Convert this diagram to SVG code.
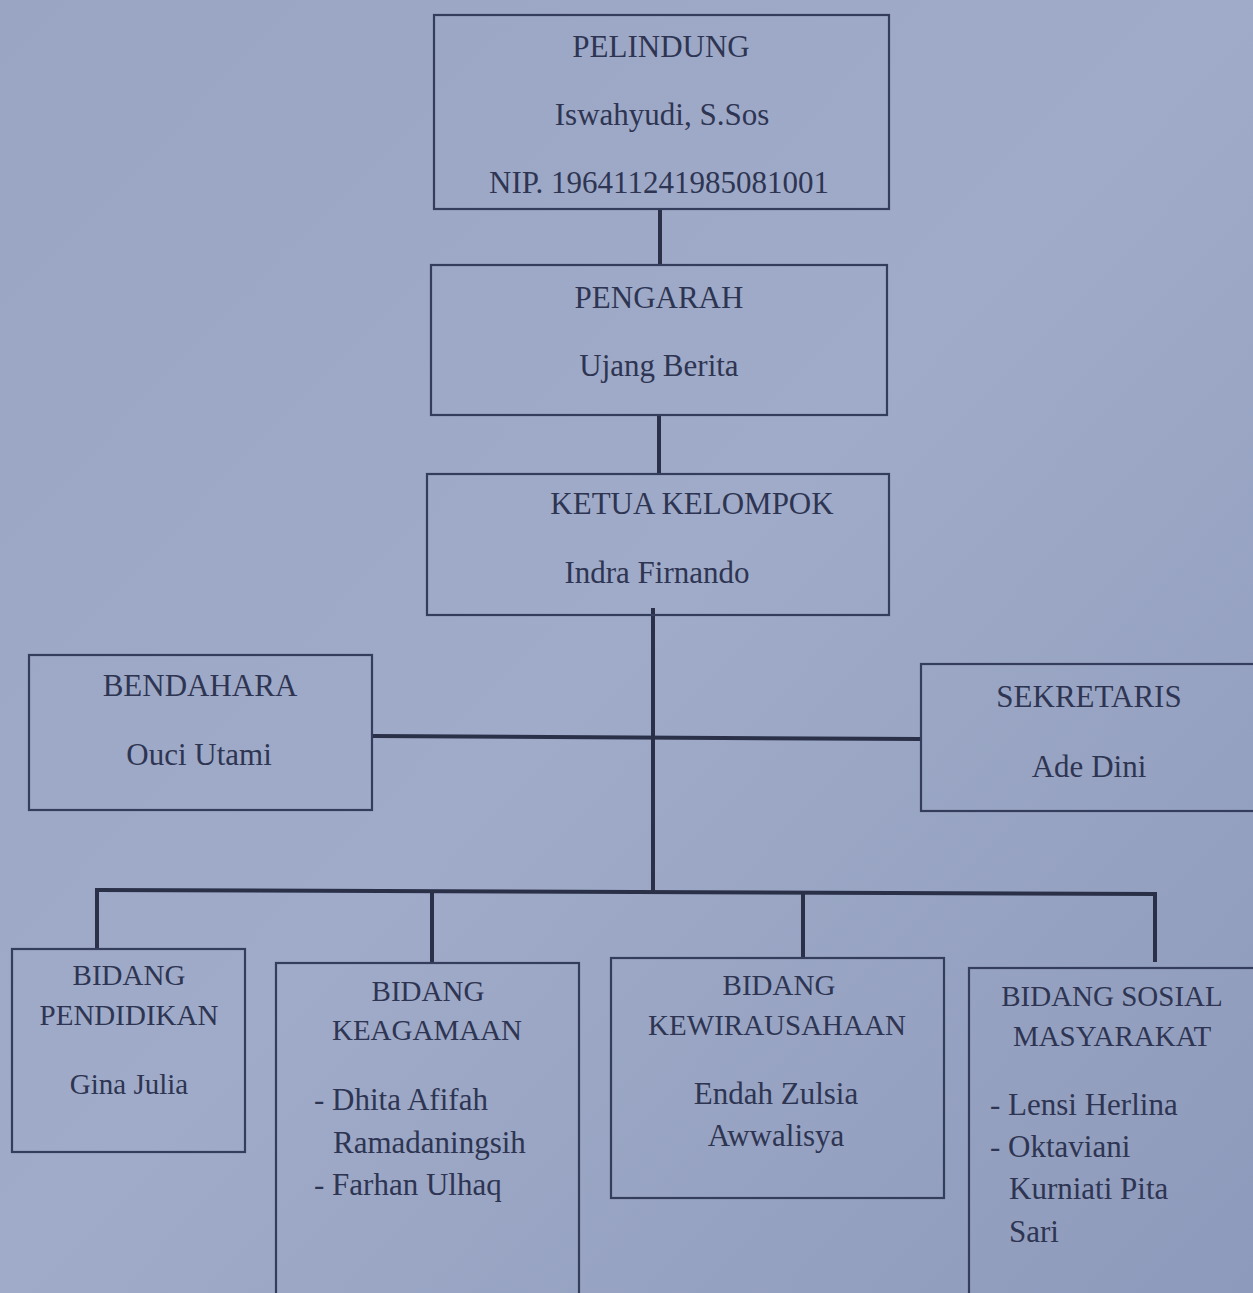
<svg xmlns="http://www.w3.org/2000/svg" width="1253" height="1293" viewBox="0 0 1253 1293">
<defs>
<linearGradient id="bg" x1="0" y1="0" x2="1" y2="1">
<stop offset="0" stop-color="#9aa5c4"/>
<stop offset="0.5" stop-color="#a0abc9"/>
<stop offset="1" stop-color="#8e9abb"/>
</linearGradient>
<style>
.box{fill:none;stroke:#353d5c;stroke-width:2.2}
.t{font-family:"Liberation Serif","Times New Roman",serif;font-size:31px;fill:#2e3552}
.s{font-size:29px}
.c{text-anchor:middle}
.ln{stroke:#2a3048;stroke-width:4;fill:none}
</style>
</defs>
<rect x="0" y="0" width="1253" height="1293" fill="url(#bg)"/>
<g id="connectors">
<line class="ln" x1="660" y1="210" x2="660" y2="265"/>
<line class="ln" x1="659" y1="415" x2="659" y2="474"/>
<line class="ln" x1="653" y1="608" x2="653" y2="892"/>
<line class="ln" x1="373" y1="736" x2="921" y2="739"/>
<line class="ln" x1="97" y1="890" x2="1156" y2="894"/>
<line class="ln" x1="97" y1="888" x2="97" y2="949"/>
<line class="ln" x1="432" y1="890" x2="432" y2="963"/>
<line class="ln" x1="803" y1="891" x2="803" y2="957"/>
<line class="ln" x1="1155" y1="892" x2="1155" y2="962"/>
</g>
<g id="pelindung">
<rect class="box" x="434" y="15" width="455" height="194"/>
<text class="t c" x="661" y="57">PELINDUNG</text>
<text class="t c" x="662" y="125">Iswahyudi, S.Sos</text>
<text class="t c" x="659" y="193">NIP. 196411241985081001</text>
</g>
<g id="pengarah">
<rect class="box" x="431" y="265" width="456" height="150"/>
<text class="t c" x="659" y="308">PENGARAH</text>
<text class="t c" x="659" y="376">Ujang Berita</text>
</g>
<g id="ketua">
<rect class="box" x="427" y="474" width="462" height="141"/>
<text class="t c" x="692" y="514">KETUA KELOMPOK</text>
<text class="t c" x="657" y="583">Indra Firnando</text>
</g>
<g id="bendahara">
<rect class="box" x="29" y="655" width="343" height="155"/>
<text class="t c" x="200" y="696">BENDAHARA</text>
<text class="t c" x="199" y="765">Ouci Utami</text>
</g>
<g id="sekretaris">
<rect class="box" x="921" y="664" width="340" height="147"/>
<text class="t c" x="1089" y="707">SEKRETARIS</text>
<text class="t c" x="1089" y="777">Ade Dini</text>
</g>
<g id="pendidikan">
<rect class="box" x="12" y="949" width="233" height="203"/>
<text class="t s c" x="129" y="985">BIDANG</text>
<text class="t s c" x="129" y="1025">PENDIDIKAN</text>
<text class="t s c" x="129" y="1094">Gina Julia</text>
</g>
<g id="keagamaan">
<rect class="box" x="276" y="963" width="303" height="340"/>
<text class="t s c" x="428" y="1001">BIDANG</text>
<text class="t s c" x="427" y="1040">KEAGAMAAN</text>
<text class="t" x="314" y="1110">- Dhita Afifah</text>
<text class="t" x="333" y="1153">Ramadaningsih</text>
<text class="t" x="314" y="1195">- Farhan Ulhaq</text>
</g>
<g id="kewirausahaan">
<rect class="box" x="611" y="958" width="333" height="240"/>
<text class="t s c" x="779" y="995">BIDANG</text>
<text class="t s c" x="777" y="1035">KEWIRAUSAHAAN</text>
<text class="t c" x="776" y="1104">Endah Zulsia</text>
<text class="t c" x="776" y="1146">Awwalisya</text>
</g>
<g id="sosial">
<rect class="box" x="969" y="968" width="300" height="340"/>
<text class="t s c" x="1112" y="1006">BIDANG SOSIAL</text>
<text class="t s c" x="1112" y="1046">MASYARAKAT</text>
<text class="t" x="990" y="1115">- Lensi Herlina</text>
<text class="t" x="990" y="1157">- Oktaviani</text>
<text class="t" x="1009" y="1199">Kurniati Pita</text>
<text class="t" x="1009" y="1242">Sari</text>
</g>
</svg>
